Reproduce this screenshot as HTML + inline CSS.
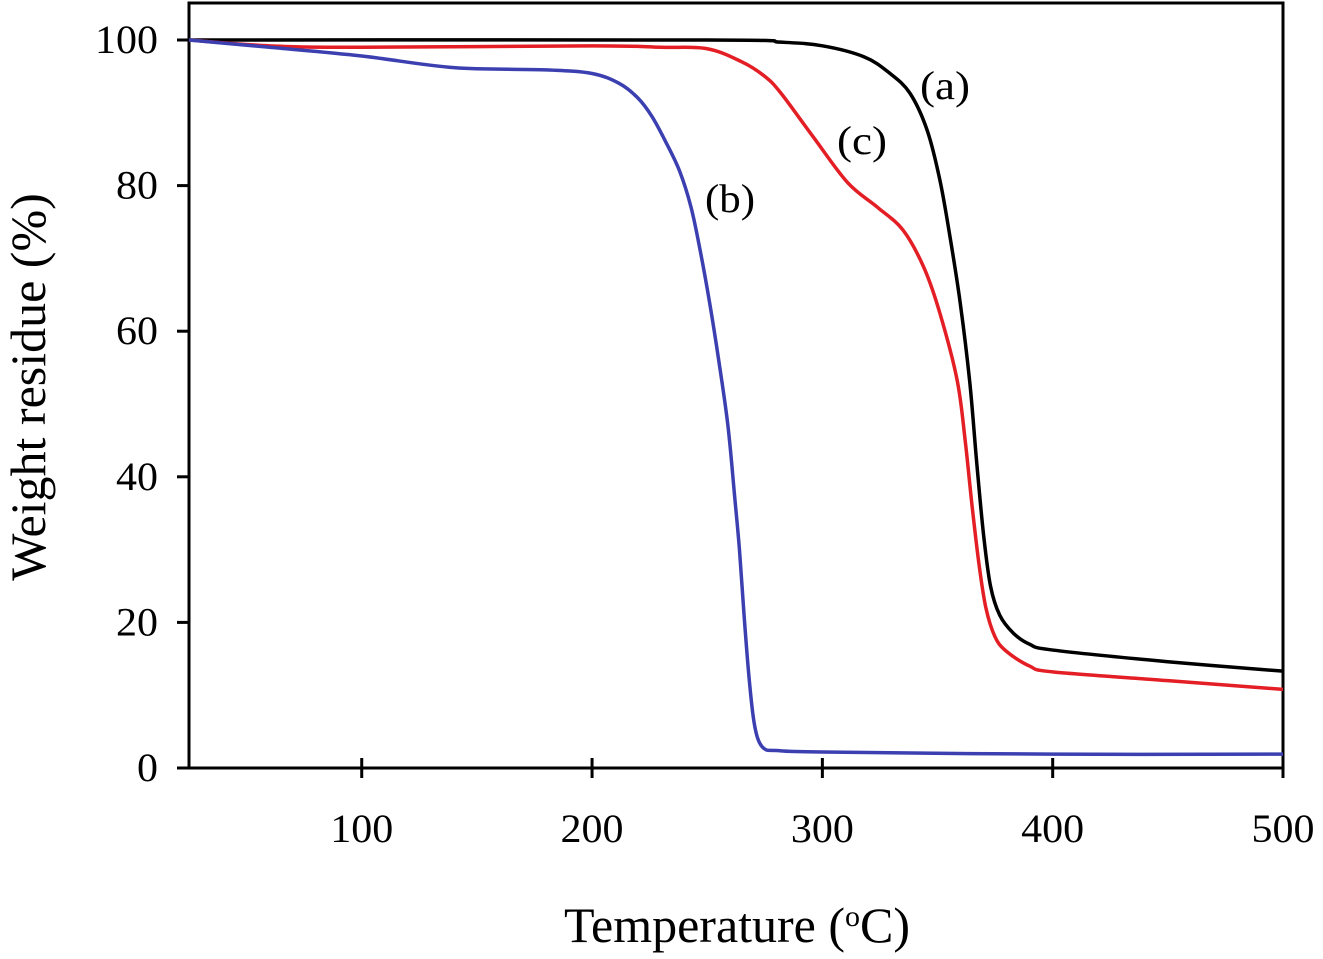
<!DOCTYPE html>
<html><head><meta charset="utf-8"><style>
body{margin:0;background:#fff;}
svg{display:block;font-family:"Liberation Serif",serif;}
</style></head><body>
<svg id="chart" width="1323" height="959" viewBox="0 0 1323 959">
<g id="marks"></g>
</svg>
<script>
const xTicks=[100,200,300,400,500];
const yTicks=[0,20,40,60,80,100];
const tempA=[25,250,282,300,318,329,338,345.5,351,355.4,359.8,364,367,370,373,377,383,390,400,450,500];
const weightA=[100,100,99.7,99.2,97.7,95.5,92.7,87.6,80.8,73,64,53,42,32,25,21,18.5,17,16.2,14.6,13.3];
const tempB=[25,60,100,140,180,200,212,220,226,232,238,243,247,251,255,259,262,264,266,268,270,272,275,280,300,400,500];
const weightB=[100,99,97.8,96.2,95.9,95.4,94,92,89.5,86,82,77,71,64,56,47,37,30,21,13,7,4,2.6,2.4,2.2,1.9,1.9];
const tempC=[25,60,100,200,230,250,265,275,282,296,311,324,335,344,351,358.5,362,365,368,371,375,380,390,400,450,500];
const weightC=[100,99.2,99,99.2,99,98.8,97,95,92.7,86.7,80.4,77,73.9,68.8,62.5,53.3,45,36,28,22,18,16,14,13.2,12,10.8];
const X0=189,X1=1283,Y0=768,Y100=40;
const xmin=25,xmax=500;
function sx(v){return X0+(v-xmin)/(xmax-xmin)*(X1-X0);}
function sy(v){return Y0-(v/100)*(Y0-Y100);}
const NS="http://www.w3.org/2000/svg";
const g=document.getElementById('marks');
function el(t,a,txt){const e=document.createElementNS(NS,t);for(const k in a)e.setAttribute(k,a[k]);if(txt!==undefined)e.textContent=txt;g.appendChild(e);return e;}
const fr=el('rect',{x:X0,y:3,width:X1-X0,height:Y0-3,fill:'none',stroke:'#000','stroke-width':3});


yTicks.forEach(v=>{
 const t=el('line',{x1:X0-12,x2:X0,y1:sy(v),y2:sy(v),stroke:'#000','stroke-width':3});
 
 
 const l=el('text',{x:158,y:sy(v)+13,'text-anchor':'end','font-size':40,textLength:String(v).length*21,lengthAdjust:'spacingAndGlyphs'},String(v));
 
 
});
xTicks.forEach(v=>{
 const t=el('line',{x1:sx(v),x2:sx(v),y1:Y0-10,y2:Y0+10,stroke:'#000','stroke-width':3});
 
 
 const l=el('text',{x:sx(v),y:842,'text-anchor':'middle','font-size':40,textLength:63,lengthAdjust:'spacingAndGlyphs'},String(v));
 
 
});
function series(xs,ys,color,name){
 const P=xs.map((x,i)=>[sx(x),sy(ys[i])]);
 let d='M'+P[0][0]+','+P[0][1];
 for(let i=0;i<P.length-1;i++){
  const p0=P[Math.max(0,i-1)],p1=P[i],p2=P[i+1],p3=P[Math.min(P.length-1,i+2)];
  const c1=[p1[0]+(p2[0]-p0[0])/6,p1[1]+(p2[1]-p0[1])/6];
  const c2=[p2[0]-(p3[0]-p1[0])/6,p2[1]-(p3[1]-p1[1])/6];
  d+=' C'+c1[0]+','+c1[1]+' '+c2[0]+','+c2[1]+' '+p2[0]+','+p2[1];
 }
 const p=el('path',{d:d,fill:'none',stroke:color,'stroke-width':3.5,'stroke-linejoin':'round'});
 
 
}
series(tempA,weightA,'#000','series-a-line');
series(tempC,weightC,'#e31e24','series-c-line');
series(tempB,weightB,'#3b3fb0','series-b-line');
[['(a)',945,99,'label-a'],['(c)',862,154,'label-c'],['(b)',730,212,'label-b']].forEach(a=>{
 const t=el('text',{x:a[1],y:a[2],'text-anchor':'middle','font-size':40,textLength:50,lengthAdjust:'spacingAndGlyphs'},a[0]);
 
 
});
const xt=el('text',{x:737,y:942,'text-anchor':'middle','font-size':50});
xt.innerHTML='Temperature (<tspan baseline-shift="super" font-size="30">o</tspan>C)';


const yt=el('text',{x:0,y:0,'text-anchor':'middle','font-size':50,transform:'translate(45,387) rotate(-90)'},'Weight residue (%)');


</script>
</body></html>
